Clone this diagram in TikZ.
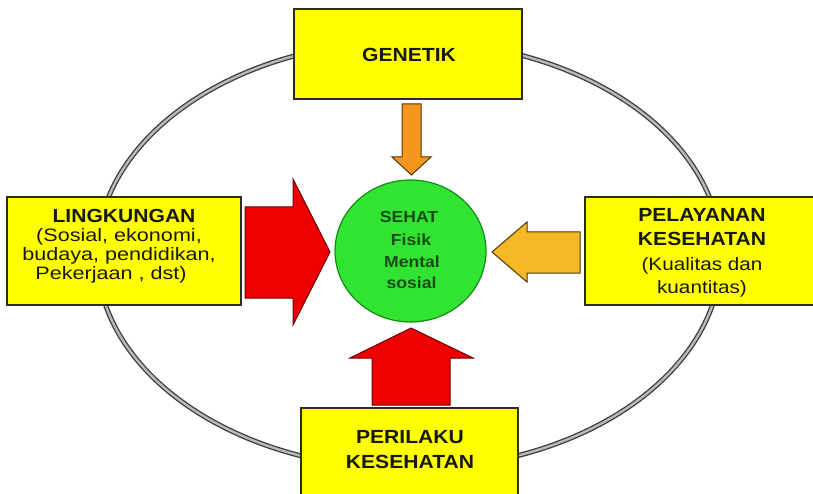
\documentclass[tikz,border=0pt]{standalone}
\usepackage{fontspec}
\setmainfont{Liberation Sans}
\usetikzlibrary{shapes.geometric}
\definecolor{boxyellow}{RGB}{255,255,0}
\definecolor{boxline}{RGB}{45,45,35}
\definecolor{txtdark}{RGB}{25,25,20}
\definecolor{sehatfill}{RGB}{50,228,50}
\definecolor{sehatline}{RGB}{20,140,20}
\definecolor{sehattext}{RGB}{22,75,22}
\definecolor{arrred}{RGB}{238,0,0}
\definecolor{arrredline}{RGB}{105,0,0}
\definecolor{arrorange}{RGB}{245,150,30}
\definecolor{arrgold}{RGB}{245,185,40}
\definecolor{arrdark}{RGB}{80,55,10}
\definecolor{ringline}{RGB}{60,60,60}
\definecolor{ringfill}{RGB}{185,185,185}
\begin{document}
\begin{tikzpicture}[x=1pt,y=-1pt,
  box/.style={rectangle, draw=boxline, line width=1.2pt, fill=boxyellow, inner sep=0pt},
  bt/.style={font=\fontsize{19}{19}\selectfont\bfseries, text=txtdark, anchor=base, inner sep=0pt, xscale=1.11},
  rtl/.style={font=\fontsize{18}{18}\selectfont, text=txtdark, anchor=base, inner sep=0pt, xscale=1.2},
  rtr/.style={font=\fontsize{18}{18}\selectfont, text=txtdark, anchor=base, inner sep=0pt, xscale=1.15},
  ct/.style={font=\fontsize{16}{16}\selectfont\bfseries, text=sehattext, anchor=base, inner sep=0pt, xscale=1.1},
  blockred/.style={fill=arrred, draw=arrredline, line width=1pt, line join=miter},
  blockorange/.style={fill=arrorange, draw=arrdark, line width=1pt},
  blockgold/.style={fill=arrgold, draw=arrdark, line width=1pt},
  ring/.style={draw=ringline, line width=1.3pt, double=ringfill, double distance=2.4pt}]
\path[use as bounding box] (0,0) rectangle (813,494);
\clip (0,0) rectangle (813,494);
\fill[white] (0,0) rectangle (813,494);

% outer ring
\draw[ring] (409,255) ellipse [x radius=312pt, y radius=214pt];

% boxes
\node[box, minimum width=228pt, minimum height=90pt] (gen) at (408,54) {};
\node[box, minimum width=234pt, minimum height=108pt] (ling) at (124,251) {};
\node[box, minimum width=234pt, minimum height=108pt] (pel) at (702,251) {};
\node[box, minimum width=217pt, minimum height=90pt] (per) at (409.5,453) {};

% centre circle
\node[ellipse, draw=sehatline, line width=1.2pt, fill=sehatfill, minimum width=151pt, minimum height=142pt, inner sep=0pt] (sehat) at (410.5,251) {};

% block arrows
\draw[blockorange] (402,104) -- (421,104) -- (421,157) -- (431,157) -- (411.5,175) -- (392,157) -- (402,157) -- cycle;
\draw[blockred] (245,207) -- (293,207) -- (293,179) -- (330,252) -- (293,325) -- (293,298) -- (245,298) -- cycle;
\draw[blockgold] (580,232) -- (527,232) -- (527,222) -- (492,252) -- (527,282) -- (527,273) -- (580,273) -- cycle;
\draw[blockred] (372,405) -- (372,358) -- (350,358) -- (411,328) -- (473,358) -- (450,358) -- (450,405) -- cycle;

% texts
\node[bt] (gent) at (409,62) {GENETIK};

\node[bt] (lt1) at (124,222.7) {LINGKUNGAN};
\node[rtl] (lt2) at (119,241) {(Sosial, ekonomi,};
\node[rtl] (lt3) at (119,260) {budaya, pendidikan,};
\node[rtl] (lt4) at (111,279) {Pekerjaan , dst)};

\node[bt] (pt1) at (702,222) {PELAYANAN};
\node[bt] (pt2) at (702,246) {KESEHATAN};
\node[rtr] (pt3) at (702,270) {(Kualitas dan};
\node[rtr] (pt4) at (702,293) {kuantitas)};

\node[ct] (st1) at (409,223) {SEHAT};
\node[ct] (st2) at (411,245) {Fisik};
\node[ct] (st3) at (412,267) {Mental};
\node[ct] (st4) at (411.5,288) {sosial};

\node[bt] (bt1) at (410,443) {PERILAKU};
\node[bt] (bt2) at (410,468) {KESEHATAN};
\end{tikzpicture}
\end{document}
